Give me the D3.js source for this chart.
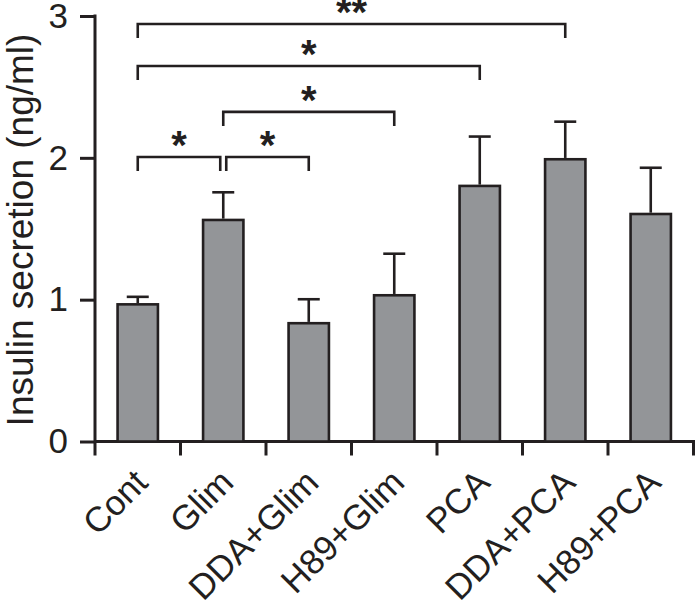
<!DOCTYPE html>
<html><head><meta charset="utf-8">
<script src="https://cdn.jsdelivr.net/npm/d3@7"></script>
<style>body{margin:0;background:#fff}svg{display:block}text{font-family:"Liberation Sans",Arial,sans-serif;fill:#231f20}</style>
</head><body><svg id="c" width="696" height="608"></svg>
<script>
const categories = ["Cont","Glim","DDA+Glim","H89+Glim","PCA","DDA+PCA","H89+PCA"];
const means = [0.967, 1.562, 0.834, 1.031, 1.802, 1.990, 1.604];
const errors = [0.053, 0.195, 0.169, 0.293, 0.348, 0.265, 0.326];
const yTicks = [0, 1, 2, 3];
const sigFrom = ["Cont","Glim","Glim","Cont","Cont"];
const sigTo = ["Glim","DDA+Glim","H89+Glim","PCA","DDA+PCA"];
const sigLevel = [2.006, 2.006, 2.324, 2.648, 2.944];
const sigLabel = ["*","*","*","*","**"];

const ink = "#231f20", fill = "#939598";
const svg = d3.select("#c");
const x = d3.scaleBand().domain(categories).range([95, 693.5]).paddingInner(0.5).paddingOuter(0.25);
const y = d3.scaleLinear().domain([0, 3]).range([441.5, 16]);
const drop = 14;

// y axis
const ya = svg.append("g").attr("transform","translate(95,0)")
  .call(d3.axisLeft(y).tickValues(yTicks).tickSize(15).tickPadding(12).tickFormat(d3.format("d")));
ya.select(".domain").remove();
ya.selectAll(".tick line").attr("stroke",ink).attr("stroke-width",3);
ya.selectAll(".tick text").attr("font-size",35).attr("fill",ink).attr("font-family","Liberation Sans, Arial, sans-serif");
svg.append("line").attr("x1",95).attr("x2",95).attr("y1",y(3)-1.5).attr("y2",y(0)+14)
  .attr("stroke",ink).attr("stroke-width",3);
// x axis
svg.append("line").attr("x1",95).attr("x2",x.range()[1]+1.5).attr("y1",y(0)).attr("y2",y(0))
  .attr("stroke",ink).attr("stroke-width",3);
const bounds = categories.map(c => x(c) - x.step()*x.paddingOuter()).concat([x.range()[1]]);
svg.selectAll(".xt").data(bounds.slice(1)).join("line")
  .attr("x1",d=>d).attr("x2",d=>d).attr("y1",y(0)).attr("y2",y(0)+14)
  .attr("stroke",ink).attr("stroke-width",3);

// bars
svg.selectAll(".bar").data(categories).join("rect")
  .attr("x",d=>x(d)+1.2).attr("width",x.bandwidth()-2.4)
  .attr("y",(d,i)=>y(means[i])).attr("height",(d,i)=>y(0)-y(means[i]))
  .attr("fill",fill).attr("stroke",ink).attr("stroke-width",2.6);
// error bars
categories.forEach((c,i)=>{
  const cx = x(c)+x.bandwidth()/2;
  svg.append("line").attr("x1",cx).attr("x2",cx).attr("y1",y(means[i])-1.3).attr("y2",y(means[i]+errors[i]))
    .attr("stroke",ink).attr("stroke-width",2.6);
  svg.append("line").attr("x1",cx-11).attr("x2",cx+11).attr("y1",y(means[i]+errors[i])).attr("y2",y(means[i]+errors[i]))
    .attr("stroke",ink).attr("stroke-width",2.6);
});

// x labels
categories.forEach(c=>{
  const cx = x(c)+x.bandwidth()/2;
  svg.append("text").attr("text-anchor","end").attr("font-size",35)
    .attr("transform",`translate(${cx+12},${y(0)+43}) rotate(-45)`).text(c);
});

// y label
svg.append("text").attr("text-anchor","middle").attr("font-size",37)
  .attr("transform","translate(32.5,230) rotate(-90)").text("Insulin secretion (ng/ml)");

// significance brackets
sigFrom.forEach((f,i)=>{
  let x1 = x(f)+x.bandwidth()/2, x2 = x(sigTo[i])+x.bandwidth()/2;
  if (f==="Glim" && sigTo[i]==="DDA+Glim") x1 += 3;
  if (f==="Cont" && sigTo[i]==="Glim") x2 -= 3;
  const yy = y(sigLevel[i]);
  svg.append("path").attr("d",`M${x1},${yy+drop}V${yy}H${x2}V${yy+drop}`)
    .attr("fill","none").attr("stroke",ink).attr("stroke-width",2.6);
  svg.append("text").attr("text-anchor","middle").attr("font-size",40).attr("font-weight","bold")
    .attr("x",(x1+x2)/2).attr("y",yy+2).text(sigLabel[i]);
});
</script></body></html>
